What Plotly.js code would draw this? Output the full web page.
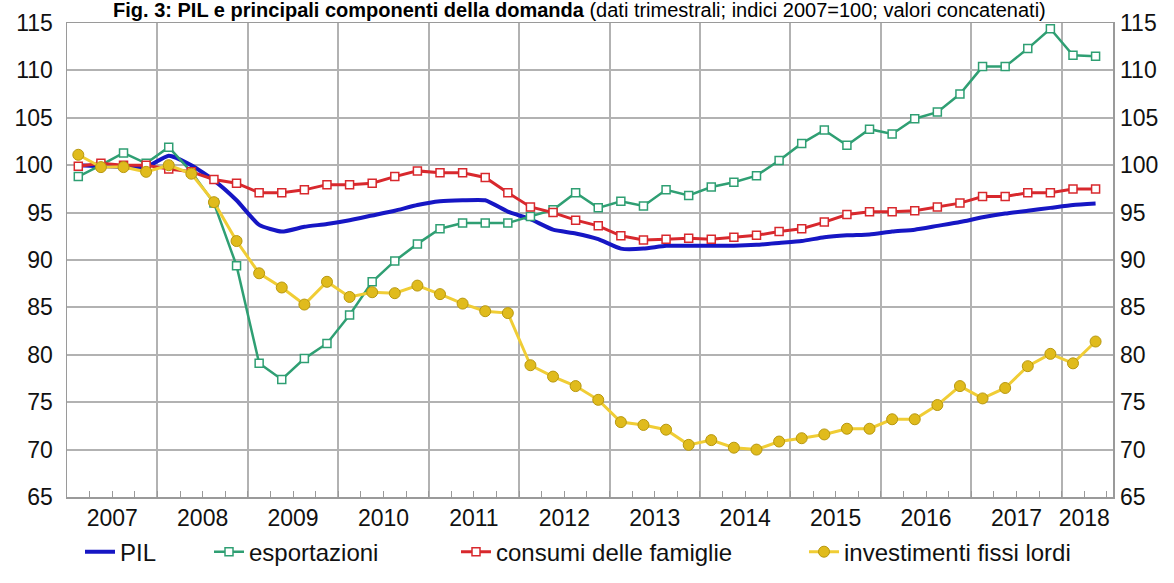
<!DOCTYPE html>
<html>
<head>
<meta charset="utf-8">
<script src="https://cdn.plot.ly/plotly-3.0.1.min.js"></script>
<style>
  html, body { margin: 0; padding: 0; background: #fff; }
  #chart { width: 1174px; height: 583px; }
</style>
</head>
<body>
<div id="chart"></div>
<script>
// ---- DATA (quarterly, index 2007=100) ----
const quarters = [
  '2007T1','2007T2','2007T3','2007T4','2008T1','2008T2','2008T3','2008T4',
  '2009T1','2009T2','2009T3','2009T4','2010T1','2010T2','2010T3','2010T4',
  '2011T1','2011T2','2011T3','2011T4','2012T1','2012T2','2012T3','2012T4',
  '2013T1','2013T2','2013T3','2013T4','2014T1','2014T2','2014T3','2014T4',
  '2015T1','2015T2','2015T3','2015T4','2016T1','2016T2','2016T3','2016T4',
  '2017T1','2017T2','2017T3','2017T4','2018T1','2018T2'
];
const pil = [
  100.0, 99.9, 99.8, 99.8, 101.0, 100.0, 98.4, 96.3,
  93.7, 93.0, 93.5, 93.8, 94.2, 94.7, 95.2, 95.8,
  96.2, 96.3, 96.3, 95.1, 94.3, 93.2, 92.8, 92.2,
  91.2, 91.2, 91.5, 91.5, 91.5, 91.5, 91.6, 91.8,
  92.0, 92.4, 92.6, 92.7, 93.0, 93.2, 93.6, 94.0,
  94.5, 94.9, 95.2, 95.5, 95.8, 95.95
];
const esportazioni = [
  98.8, 100.0, 101.3, 100.2, 101.9, 99.3, 96.0, 89.4,
  79.1, 77.4, 79.6, 81.2, 84.2, 87.7, 89.9, 91.7,
  93.3, 93.9, 93.9, 93.9, 94.6, 95.3, 97.1, 95.5,
  96.2, 95.7, 97.4, 96.8, 97.7, 98.2, 98.9, 100.5,
  102.3, 103.7, 102.1, 103.8, 103.3, 104.9, 105.6, 107.5,
  110.4, 110.4, 112.3, 114.4, 111.6, 111.5
];
const consumi = [
  99.9, 100.2, 100.0, 100.0, 99.6, 99.3, 98.5, 98.1,
  97.1, 97.1, 97.4, 97.95, 97.95, 98.1, 98.8, 99.4,
  99.2, 99.2, 98.7, 97.1, 95.6, 95.0, 94.2, 93.6,
  92.55, 92.1, 92.2, 92.3, 92.2, 92.4, 92.6, 93.0,
  93.3, 94.0, 94.8, 95.1, 95.1, 95.2, 95.6, 96.0,
  96.7, 96.7, 97.1, 97.1, 97.5, 97.5
];
const investimenti = [
  101.1, 99.8, 99.8, 99.3, 100.0, 99.1, 96.1, 92.0,
  88.6, 87.1, 85.3, 87.7, 86.1, 86.6, 86.5, 87.3,
  86.4, 85.4, 84.6, 84.4, 78.9, 77.7, 76.7, 75.25,
  72.9, 72.6, 72.1, 70.5, 71.0, 70.2, 70.0, 70.85,
  71.2, 71.6, 72.2, 72.2, 73.2, 73.2, 74.7, 76.7,
  75.4, 76.5, 78.8, 80.1, 79.1, 81.4
];
const seriesNames = ['PIL', 'esportazioni', 'consumi delle famiglie', 'investimenti fissi lordi'];
const yearLabels = ['2007','2008','2009','2010','2011','2012','2013','2014','2015','2016','2017','2018'];
const yTicks = [65, 70, 75, 80, 85, 90, 95, 100, 105, 110, 115];
const titleText = '<b>Fig. 3: PIL e principali componenti della domanda</b> (dati trimestrali; indici 2007=100; valori concatenati)';

// ---- derived positions (quarter index) ----
const xIdx = quarters.map((_, i) => i);
const xMax = 45.77;
const quarterTicks = [];
for (let k = 0; k <= 45; k++) quarterTicks.push(k + 0.5);
const yearMid = yearLabels.map((_, j) => j * 4 + 1.5);
yearMid[yearMid.length - 1] = 44.5;
const quarterText = quarterTicks.map(v => {
  const j = yearMid.indexOf(v);
  return j >= 0 ? yearLabels[j] : '';
});
const yearBounds = [];
for (let j = 1; j < yearLabels.length; j++) yearBounds.push(j * 4 - 0.5);

const FONT = 'Liberation Sans, Arial, sans-serif';
const GRID = '#b2b2b2';

const traces = [
  {
    x: xIdx, y: pil, name: seriesNames[0], type: 'scatter', mode: 'lines',
    line: { color: '#1616c4', width: 4, shape: 'spline', smoothing: 0.5 },
    legend: 'legend'
  },
  {
    x: xIdx, y: esportazioni, name: seriesNames[1], type: 'scatter', mode: 'lines+markers',
    line: { color: '#2f9f73', width: 2.5 },
    marker: { symbol: 'square', size: 8, color: '#ffffff', line: { color: '#2f9f73', width: 1.5 } },
    legend: 'legend2'
  },
  {
    x: xIdx, y: consumi, name: seriesNames[2], type: 'scatter', mode: 'lines+markers',
    line: { color: '#d8282d', width: 3 },
    marker: { symbol: 'square', size: 8, color: '#ffffff', line: { color: '#d8282d', width: 1.5 } },
    legend: 'legend3'
  },
  {
    x: xIdx, y: investimenti, name: seriesNames[3], type: 'scatter', mode: 'lines+markers',
    yaxis: 'y2',
    line: { color: '#f0cd35', width: 3 },
    marker: { symbol: 'circle', size: 11, color: '#e0bb1c', line: { color: '#b8980f', width: 1 } },
    legend: 'legend4'
  }
];

const legendBase = {
  xref: 'container', yref: 'container', xanchor: 'left', yanchor: 'middle',
  y: 0.053, orientation: 'h', bgcolor: 'rgba(0,0,0,0)',
  font: { family: FONT, size: 24, color: '#111' }, itemwidth: 30
};

const layout = {
  width: 1174, height: 583,
  margin: { l: 67, r: 61, t: 23, b: 86, pad: 0 },
  paper_bgcolor: '#ffffff', plot_bgcolor: '#ffffff',
  font: { family: FONT, color: '#111' },
  title: {
    text: titleText, xref: 'container', yref: 'container',
    x: 0.0963, xanchor: 'left', y: 0.9835, yanchor: 'middle',
    font: { family: FONT, size: 20, color: '#000' }
  },
  xaxis: {
    range: [-0.5, xMax], zeroline: false,
    tickmode: 'array', tickvals: quarterTicks, ticktext: quarterText,
    ticks: 'inside', ticklen: 6, tickwidth: 1, tickcolor: '#999',
    tickfont: { family: FONT, size: 23, color: '#111' },
    showgrid: false,
    minor: { tickmode: 'array', tickvals: yearBounds, showgrid: true, gridcolor: GRID, gridwidth: 2, ticks: '' },
    showline: true, mirror: true, linecolor: '#9a9a9a', linewidth: 1.5
  },
  yaxis: {
    range: [65, 115], tickmode: 'array', tickvals: yTicks, zeroline: false,
    showgrid: true, gridcolor: GRID, gridwidth: 2, ticks: '',
    ticklabelstandoff: 8,
    tickfont: { family: FONT, size: 23, color: '#111' },
    showline: true, mirror: true, linecolor: '#9a9a9a', linewidth: 1.5
  },
  yaxis2: {
    range: [65, 115], tickmode: 'array', tickvals: yTicks, overlaying: 'y', side: 'right',
    showgrid: false, zeroline: false, ticks: '', ticklabelstandoff: 6,
    tickfont: { family: FONT, size: 23, color: '#111' }
  },
  legend:  Object.assign({}, legendBase, { x: 80 / 1174 }),
  legend2: Object.assign({}, legendBase, { x: 209 / 1174 }),
  legend3: Object.assign({}, legendBase, { x: 456 / 1174 }),
  legend4: Object.assign({}, legendBase, { x: 804 / 1174 }),
  showlegend: true
};

Plotly.newPlot('chart', traces, layout, { displayModeBar: false, staticPlot: true });
</script>
</body>
</html>
